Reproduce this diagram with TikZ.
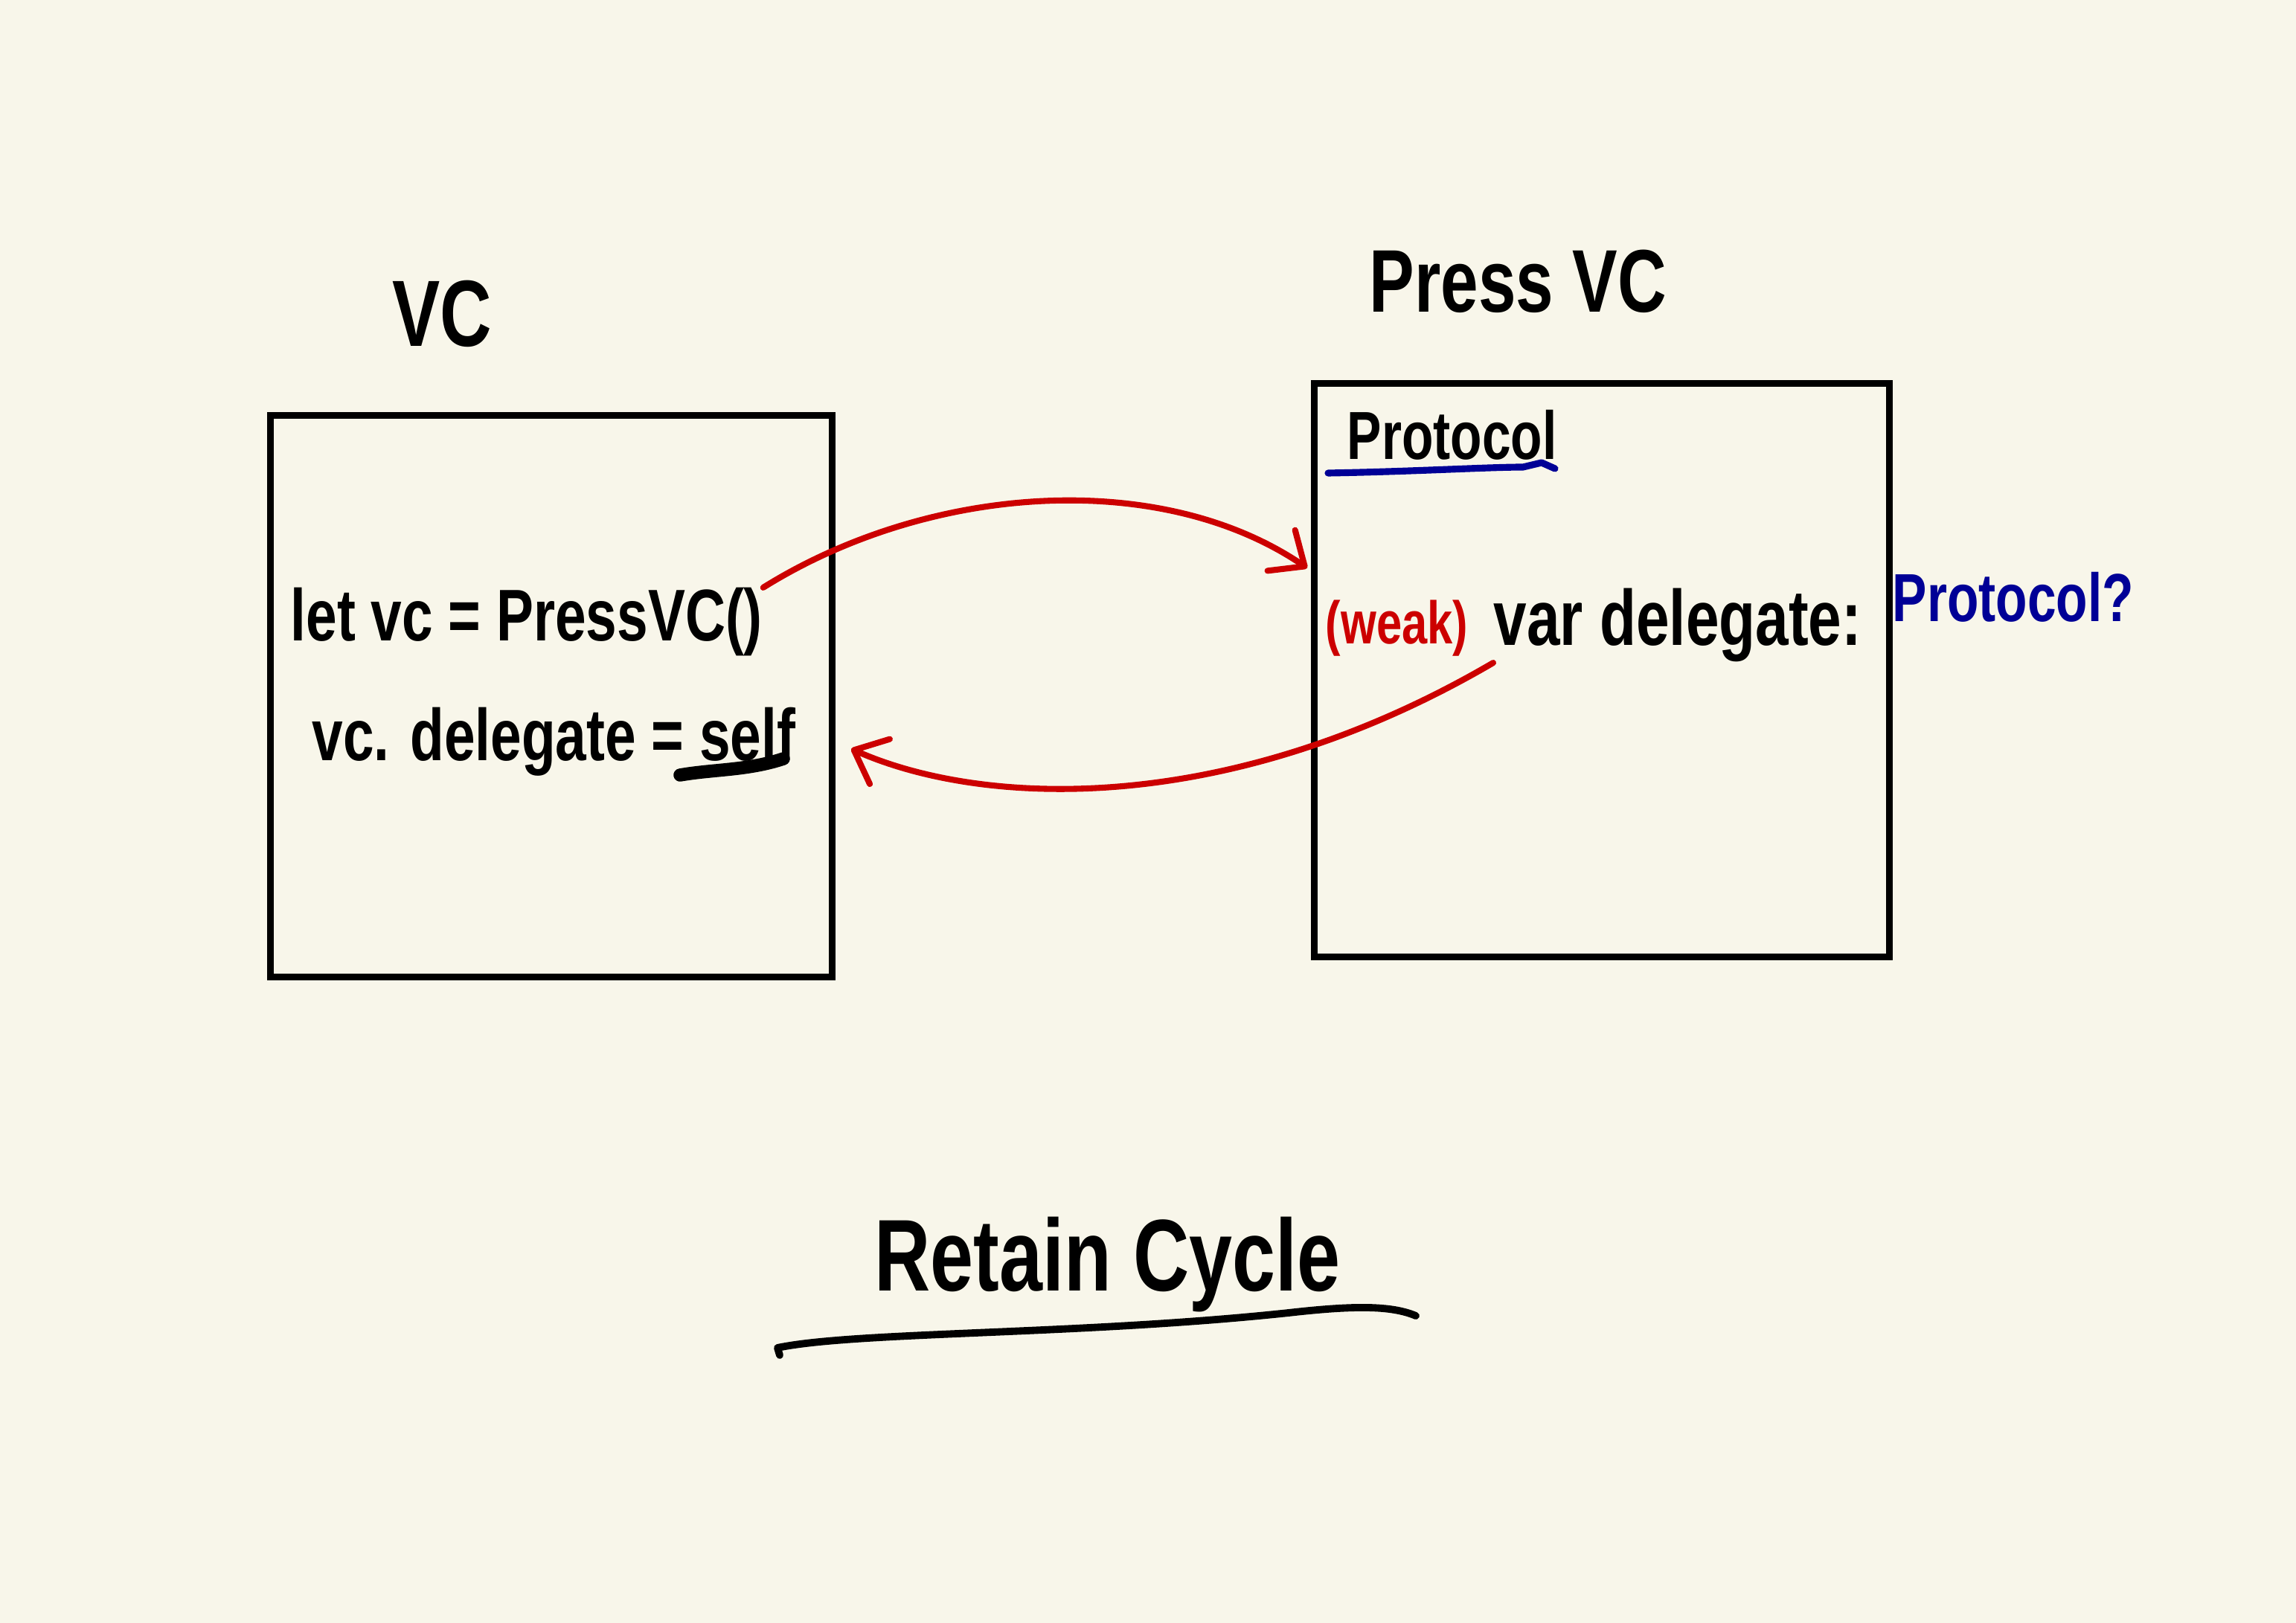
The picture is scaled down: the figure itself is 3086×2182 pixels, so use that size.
\documentclass[tikz,border=0pt]{standalone}
\usepackage{fontspec}
\setmainfont{Liberation Sans}
\newfontfamily\hand[FakeStretch=0.76]{Liberation Sans}
\usetikzlibrary{arrows.meta}

\definecolor{paper}{RGB}{248,246,234}
\definecolor{penred}{RGB}{204,0,0}
\definecolor{penblue}{RGB}{0,0,150}

\tikzset{
  panel/.style={draw=black, line width=2.5pt, minimum width=#1, minimum height=#1, inner sep=0pt},
  scribble/.style={inner sep=0pt, anchor=base west, font={\hand\bfseries\fontsize{#1}{#1}\selectfont}},
  penarrow/.style={draw=penred, line width=2.3pt, line cap=round,
    -{Straight Barb[length=3.8mm, width=6.6mm, round]}},
  inkline/.style={line width=#1, line cap=round, line join=round}
}

\begin{document}
\begin{tikzpicture}[x=0.01cm, y=-0.01cm]
  % paper
  \fill[paper] (0,0) rectangle (3086,2182);
  \useasboundingbox (0,0) rectangle (3086,2182);

  % the two controllers
  \node[panel=7.54cm] (vcbox) at (741,936) {};
  \node[panel=7.71cm, minimum width=7.72cm] (pressbox) at (2153,901) {};

  % titles
  \node[scribble=36] (vclabel) at (527,466) {VC};
  \node[scribble=34] (presslabel) at (1840,420) {Press VC};
  \node[scribble=39] (retain) at (1175,1735) {Retain Cycle};

  % code in VC
  \node[scribble=28] (letvc) at (390,862) {let vc = PressVC()};
  \node[scribble=28] (vcdel) at (419,1022) {vc. delegate = self};

  % code in PressVC
  \node[scribble=26] (protocol) at (1810,618) {Protocol};
  \node[scribble=23, text=penred] (weak) at (1781,866) {(weak)};
  \node[scribble=30] (vardel) at (2007,868) {var delegate:};
  \node[scribble=26, text=penblue] (proto) at (2543,836) {Protocol?};

  % underlines
  \draw[inkline=5pt] (914,1042) .. controls (960,1034) and (1005,1036) .. (1053,1020);
  \draw[inkline=2.6pt, penblue] (1785,636) .. controls (1900,634) and (2000,628) .. (2047,628) -- (2072,622) -- (2090,630);
  \draw[inkline=2.8pt] (1048,1822) -- (1045,1812) .. controls (1150,1790) and (1450,1795) .. (1732,1765)
    .. controls (1820,1755) and (1870,1755) .. (1903,1769);

  % references
  \draw[penarrow] (letvc.north east) .. controls (1250,650) and (1560,630) .. ([xshift=-0.24cm, yshift=0.43cm]weak.north west);
  \draw[penarrow] (vardel.south west) .. controls (1650,1100) and (1320,1085) .. ([xshift=0.74cm, yshift=-0.1cm]vcdel.east);
\end{tikzpicture}
\end{document}
